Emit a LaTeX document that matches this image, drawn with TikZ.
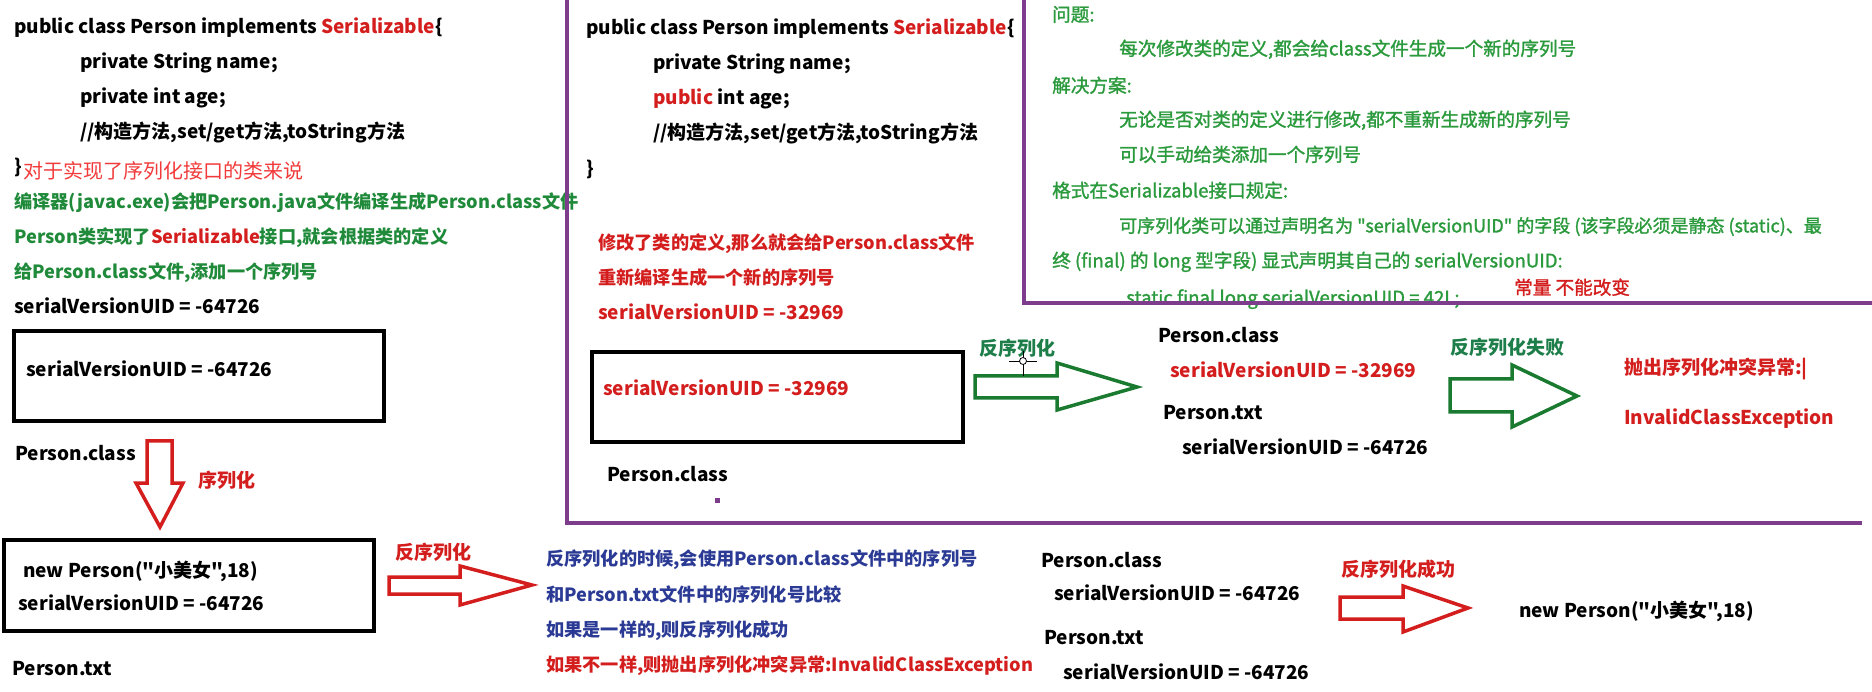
\documentclass[tikz,border=0pt]{standalone}
\usepackage{fontspec}
\setmainfont{Noto Sans CJK SC}[Ligatures=TeXOff]
\newfontfamily\grnfont{Noto Sans CJK SC}[Ligatures=TeXOff, FakeBold=1.4]
\definecolor{cred}{HTML}{D41E1E}
\definecolor{cbred}{HTML}{F23A3A}
\definecolor{cgreen}{HTML}{1F8A3A}
\definecolor{cgreen2}{HTML}{2A9A3C}
\definecolor{ctgreen}{HTML}{1E7E4A}
\definecolor{cagreen}{HTML}{1A7A30}
\definecolor{cblue}{HTML}{2B3A94}
\definecolor{cpurple}{HTML}{7E3C8C}
\tikzset{
  base/.style={anchor=west, inner sep=0pt, text height=0.82em, text depth=0.14em, yshift=-4pt},
  t/.style={base, font=\fontsize{19}{19}\selectfont\bfseries},
  tc/.style={base, font=\fontsize{18.2}{18.2}\selectfont\bfseries},
  tr/.style={base, font=\fontsize{19}{19}\selectfont},
  tg/.style={base, text=cgreen2, font=\fontsize{18.6}{18.6}\grnfont},
  frame/.style={draw=cpurple, line width=4pt},
  box/.style={draw=black, line width=4pt},
  rarrow/.style={draw=cred, line width=3.5pt, fill=white, line join=miter},
  garrow/.style={draw=cagreen, line width=3.5pt, fill=white, line join=miter},
}
\begin{document}
\begin{tikzpicture}[x=1pt,y=-1pt]
\useasboundingbox[fill=white] (0,0) rectangle (1872,692);
% ---------- left column ----------
\node[t] (l1) at (14,26) {public class Person implements \textcolor{cred}{Serializable}\{};
\node[t] (l2) at (80,61) {private String name;};
\node[t] (l3) at (80,96) {private int age;};
\node[t] (l4) at (80,131) {//构造方法,set/get方法,toString方法};
\node[t] (l5) at (14,166) {\}};
\node[tr, text=cbred, font=\fontsize{20}{20}\selectfont] (l5b) at (23,171) {对于实现了序列化接口的类来说};
\node[tc, text=cgreen] (l6) at (14,201) {编译器(javac.exe)会把Person.java文件编译生成Person.class文件};
\node[tc, text=cgreen] (l7) at (14,236) {Person类实现了\textcolor{cred}{Serializable}接口,就会根据类的定义};
\node[tc, text=cgreen] (l8) at (14,271) {给Person.class文件,添加一个序列号};
\node[t] (l9) at (14,306) {serialVersionUID = -64726};
\draw[box] (14,331) rectangle (384,421);
\node[t] (b1t) at (26,369) {serialVersionUID = -64726};
\node[t] (pc1) at (15,453) {Person.class};
\draw[rarrow] (147,441) -- (172,441) -- (172,483) -- (183,483) -- (160,527) -- (136,483) -- (147,483) -- cycle;
\node[t, text=cred] (ser) at (198,480) {序列化};
\draw[box] (4,540) rectangle (374,631);
\node[t] (b2a) at (23,570) {new Person("小美女",18)};
\node[t] (b2b) at (18,603) {serialVersionUID = -64726};
\node[t] (pt1) at (12,668) {Person.txt};
\draw[rarrow] (389,577) -- (460,577) -- (460,566) -- (532,585) -- (460,605) -- (460,594) -- (389,594) -- cycle;
\node[t, text=cred] (deser1) at (395,552) {反序列化};
% ---------- blue explanation ----------
\node[tc, text=cblue] (e1) at (546,558) {反序列化的时候,会使用Person.class文件中的序列号};
\node[tc, text=cblue] (e2) at (546,594) {和Person.txt文件中的序列化号比较};
\node[tc, text=cblue] (e3) at (546,629) {如果是一样的,则反序列化成功};
\node[tc, text=cred] (e4) at (546,664) {如果不一样,则抛出序列化冲突异常:InvalidClassException};
% ---------- middle ----------
\node[t] (m1) at (586,27) {public class Person implements \textcolor{cred}{Serializable}\{};
\node[t] (m2) at (653,62) {private String name;};
\node[t] (m3) at (653,97) {\textcolor{cred}{public} int age;};
\node[t] (m4) at (653,132) {//构造方法,set/get方法,toString方法};
\node[t] (m5) at (586,168) {\}};
\node[tc, text=cred] (m6) at (598,242) {修改了类的定义,那么就会给Person.class文件};
\node[tc, text=cred] (m7) at (598,277) {重新编译生成一个新的序列号};
\node[t, text=cred] (m8) at (598,312) {serialVersionUID = -32969};
\draw[box] (592,352) rectangle (963,442);
\node[t, text=cred] (b3t) at (603,388) {serialVersionUID = -32969};
\node[t] (pc2) at (607,474) {Person.class};
\fill[cpurple] (715,498) rectangle (720,503);
\node[t, text=ctgreen] (deser2) at (979,348) {反序列化};
\draw[garrow] (975,376) -- (1057,376) -- (1057,363) -- (1137,387) -- (1057,410) -- (1057,398) -- (975,398) -- cycle;
\draw[black, line width=0.8pt] (1009,361) -- (1037,361) (1023,351) -- (1023,376);
\draw[black, fill=white, line width=0.8pt] (1023,361) circle (3.5);
\node[t] (pc3) at (1158,335) {Person.class};
\node[t, text=cred] (r1) at (1170,370) {serialVersionUID = -32969};
\node[t] (pt3) at (1163,412) {Person.txt};
\node[t] (r2) at (1182,447) {serialVersionUID = -64726};
\node[t, text=ctgreen] (fail) at (1450,347) {反序列化失败};
\draw[garrow] (1450,379) -- (1512,379) -- (1512,365) -- (1577,396) -- (1512,427) -- (1512,412) -- (1450,412) -- cycle;
\node[t, text=cred] (ex1) at (1624,367) {抛出序列化冲突异常:|};
\node[t, text=cred] (ex2) at (1624,417) {InvalidClassException};
% ---------- top right ----------
\node[tg] (q1) at (1052,14) {问题:};
\node[tg] (q2) at (1119,48) {每次修改类的定义,都会给class文件生成一个新的序列号};
\node[tg] (q3) at (1052,85) {解决方案:};
\node[tg] (q4) at (1119,119) {无论是否对类的定义进行修改,都不重新生成新的序列号};
\node[tg] (q5) at (1119,154) {可以手动给类添加一个序列号};
\node[tg] (q6) at (1052,190) {格式在Serializable接口规定:};
\node[tg, font=\fontsize{18}{18}\grnfont] (q7) at (1119,225) {可序列化类可以通过声明名为 "serialVersionUID" 的字段 (该字段必须是静态 (static)、最};
\node[tg] (q8) at (1052,260) {终 (final) 的 long 型字段) 显式声明其自己的 serialVersionUID:};
\node[tg] (q9) at (1126,297) {static final long serialVersionUID = 42L;};
\node[tr, text=cred, font=\fontsize{18.6}{18.6}\grnfont] (q10) at (1514,287) {常量 不能改变};
% ---------- bottom right ----------
\node[t] (pc4) at (1041,560) {Person.class};
\node[t] (s4) at (1054,593) {serialVersionUID = -64726};
\node[t] (pt4) at (1044,637) {Person.txt};
\node[t] (s5) at (1063,672) {serialVersionUID = -64726};
\draw[rarrow] (1340,597) -- (1403,597) -- (1403,586) -- (1468,608) -- (1403,632) -- (1403,619) -- (1340,619) -- cycle;
\node[t, text=cred] (ok) at (1341,569) {反序列化成功};
\node[t] (np) at (1519,610) {new Person("小美女",18)};
% ---------- purple frame ----------
\draw[frame] (567,0) -- (567,523) -- (1862,523);
\draw[frame] (1024,0) -- (1024,303) -- (1872,303);
\end{tikzpicture}
\end{document}
